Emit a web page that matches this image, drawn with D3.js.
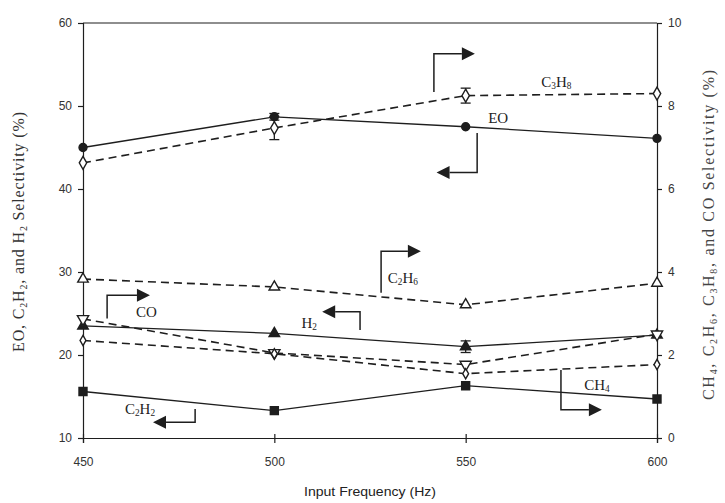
<!DOCTYPE html>
<html>
<head>
<meta charset="utf-8">
<script src="https://cdn.jsdelivr.net/npm/d3@7"></script>
<style>
  body { margin: 0; background: #fff; }
  svg text { fill: #222; }
</style>
</head>
<body>
<svg id="chart"></svg>
<script>
// frequencies (Hz) on the x axis
const freqs = [450, 500, 550, 600];

// left axis series (%)
const eoValues = [45.0, 48.7, 47.5, 46.1];
const h2Values = [23.5, 22.6, 21.0, 22.4];
const c2h2Values = [15.6, 13.3, 16.3, 14.7];

// right axis series (%)
const c3h8Values = [6.63, 7.47, 8.25, 8.3];
const c2h6Values = [3.83, 3.64, 3.21, 3.73];
const coValues = [2.87, 2.05, 1.77, 2.5];
const ch4Values = [2.35, 2.03, 1.55, 1.77];

// error bars [index, half-width] per series
const c3h8Err = [[1, 0.28], [2, 0.18]];
const h2Err = [[2, 0.7]];
const eoErr = [[1, 0.4]];

const xTicks = [450, 500, 550, 600];
const leftTicks = [10, 20, 30, 40, 50, 60];
const rightTicks = [0, 2, 4, 6, 8, 10];

const w = 725, h = 503;
const svg = d3.select("#chart").attr("width", w).attr("height", h);

const x = d3.scaleLinear().domain([450, 600]).range([83, 657]);
const yL = d3.scaleLinear().domain([10, 60]).range([438, 23]);
const yR = d3.scaleLinear().domain([0, 10]).range([438, 23]);

const ink = "#1e1e1e";

// plot frame top line
svg.append("line").attr("x1", x(450)).attr("x2", x(600))
  .attr("y1", yL(60)).attr("y2", yL(60))
  .attr("stroke", ink).attr("stroke-width", 1.2);

// axes
const axisFont = "Liberation Sans, Arial, sans-serif";
const gx = svg.append("g").attr("transform", `translate(0,${yL(10)})`)
  .call(d3.axisBottom(x).tickValues(xTicks).tickSize(5).tickPadding(14).tickFormat(d3.format("d")));
const gl = svg.append("g").attr("transform", `translate(${x(450)},0)`)
  .call(d3.axisLeft(yL).tickValues(leftTicks).tickSize(5).tickPadding(6));
const gr = svg.append("g").attr("transform", `translate(${x(600)},0)`)
  .call(d3.axisRight(yR).tickValues(rightTicks).tickSize(5).tickPadding(6));

[gx, gl, gr].forEach(g => {
  g.select(".domain").attr("stroke", ink).attr("stroke-width", 1.2);
  g.selectAll(".tick line").attr("stroke", ink).attr("stroke-width", 1.2);
  g.selectAll(".tick text").attr("font-family", axisFont).attr("font-size", 12).style("fill", "#333");
});
// x ticks cross the axis
gx.selectAll(".tick line").attr("y1", -4);

// axis titles
svg.append("text").attr("x", 370).attr("y", 496)
  .attr("text-anchor", "middle").attr("font-family", axisFont).attr("font-size", 13)
  .attr("textLength", 132).attr("lengthAdjust", "spacingAndGlyphs")
  .text("Input Frequency (Hz)");

function subText(sel, parts, size) {
  // parts: [text, isSub]
  parts.forEach(([t, sub]) => {
    sel.append("tspan")
      .attr("font-size", sub ? size * 0.62 : size)
      .attr("baseline-shift", sub ? "-25%" : null)
      .text(t);
  });
}

const serif = "Liberation Serif, Times New Roman, serif";
const leftTitle = svg.append("text")
  .attr("transform", `translate(24,232) rotate(-90)`)
  .attr("text-anchor", "middle").attr("font-family", serif).style("fill", "#333")
  .attr("textLength", 240).attr("lengthAdjust", "spacing");
subText(leftTitle, [["EO, C", 0], ["2", 1], ["H", 0], ["2", 1], [", and H", 0], ["2", 1], [" Selectivity (%)", 0]], 16);

const rightTitle = svg.append("text")
  .attr("transform", `translate(714,235) rotate(-90)`)
  .attr("text-anchor", "middle").attr("font-family", serif).style("fill", "#444")
  .attr("textLength", 330).attr("lengthAdjust", "spacing");
subText(rightTitle, [["CH", 0], ["4", 1], [", C", 0], ["2", 1], ["H", 0], ["6", 1], [", C", 0], ["3", 1], ["H", 0], ["8", 1], [", and CO Selectivity (%)", 0]], 16);

// series definitions
const series = [
  { vals: eoValues, y: yL, dash: null, marker: "circle", fill: ink, err: eoErr },
  { vals: h2Values, y: yL, dash: null, marker: "triangle", fill: ink, err: h2Err },
  { vals: c2h2Values, y: yL, dash: null, marker: "square", fill: ink, err: [] },
  { vals: c3h8Values, y: yR, dash: "8,5", marker: "diamond", fill: "#fff", err: c3h8Err },
  { vals: c2h6Values, y: yR, dash: "8,5", marker: "triangle", fill: "#fff", err: [] },
  { vals: coValues, y: yR, dash: "8,5", marker: "triangle-down", fill: "#fff", err: [] },
  { vals: ch4Values, y: yR, dash: "8,5", marker: "diamond-small", fill: "#fff", err: [] }
];

const symbols = {
  "circle": d3.symbol().type(d3.symbolCircle).size(50),
  "triangle": d3.symbol().type(d3.symbolTriangle).size(48),
  "square": d3.symbol().type(d3.symbolSquare).size(64),
  "diamond": d3.symbol().type(d3.symbolDiamond).size(48),
  "diamond-small": d3.symbol().type(d3.symbolDiamond).size(30),
  "triangle-down": d3.symbol().type(d3.symbolTriangle).size(55)
};

series.forEach(s => {
  const pts = freqs.map((f, i) => [f, s.vals[i]]);
  const line = d3.line().x(d => x(d[0])).y(d => s.y(d[1]));
  svg.append("path").datum(pts).attr("d", line)
    .attr("fill", "none").attr("stroke", ink)
    .attr("stroke-width", s.dash ? 1.6 : 1.3)
    .attr("stroke-dasharray", s.dash);

  // error bars
  s.err.forEach(([i, e]) => {
    const cx = x(freqs[i]);
    const g = svg.append("g").attr("stroke", ink).attr("stroke-width", 1.3);
    g.append("line").attr("x1", cx).attr("x2", cx)
      .attr("y1", s.y(s.vals[i] + e)).attr("y2", s.y(s.vals[i] - e));
    [s.vals[i] + e, s.vals[i] - e].forEach(v => {
      g.append("line").attr("x1", cx - 5).attr("x2", cx + 5)
        .attr("y1", s.y(v)).attr("y2", s.y(v));
    });
  });

  svg.selectAll(null).data(pts).enter().append("path")
    .attr("d", symbols[s.marker])
    .attr("transform", d => `translate(${x(d[0])},${s.y(d[1])})` +
      (s.marker === "triangle-down" ? " rotate(180)" : ""))
    .attr("fill", s.fill).attr("stroke", ink).attr("stroke-width", 1.4);
});

// annotation labels (freq, left-axis value)
const labelParts = [
  [[["C", 0], ["3", 1], ["H", 0], ["8", 1]], 573.7, 52.9],
  [[["EO", 0]], 558.5, 48.6],
  [[["C", 0], ["2", 1], ["H", 0], ["6", 1]], 533.6, 29.3],
  [[["CO", 0]], 466.6, 25.2],
  [[["H", 0], ["2", 1]], 509.1, 23.9],
  [[["C", 0], ["2", 1], ["H", 0], ["2", 1]], 464.9, 13.5],
  [[["CH", 0], ["4", 1]], 584.3, 16.4]
];
labelParts.forEach(([parts, f, v]) => {
  const t = svg.append("text").attr("x", x(f)).attr("y", yL(v) + 5)
    .attr("text-anchor", "middle").attr("font-family", serif).style("fill", "#222");
  subText(t, parts, 15);
});

// annotation arrows: [x of vertical, y start, y corner, x tip] in data units
const arrows = [
  [541.7, 51.7, 56.3, 552.4],
  [553.0, 46.75, 42.0, 542.4],
  [527.9, 27.5, 32.5, 538.3],
  [456.3, 24.4, 27.2, 467.5],
  [522.4, 23.0, 25.2, 512.5],
  [479.3, 13.5, 11.9, 468.3],
  [574.9, 18.2, 13.4, 585.6]
];
arrows.forEach(([fx, v0, v1, ft]) => {
  const xv = x(fx), y0 = yL(v0), y1 = yL(v1), xt = x(ft);
  const dir = xt > xv ? 1 : -1;
  const head = 13;
  svg.append("path")
    .attr("d", `M${xv},${y0} V${y1} H${xt - dir * head}`)
    .attr("fill", "none").attr("stroke", ink).attr("stroke-width", 1.5);
  svg.append("path")
    .attr("d", `M${xt},${y1} L${xt - dir * head},${y1 - 6.5} L${xt - dir * head},${y1 + 6.5} Z`)
    .attr("fill", ink);
});
</script>
</body>
</html>
